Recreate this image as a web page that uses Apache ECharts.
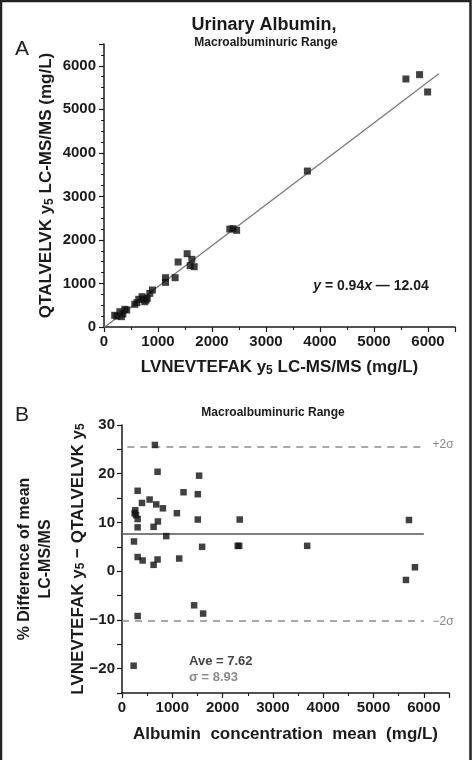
<!DOCTYPE html>
<html>
<head>
<meta charset="utf-8">
<script src="https://cdn.jsdelivr.net/npm/echarts@6/dist/echarts.min.js"></script>
<style>
html,body{margin:0;padding:0;background:#fff;}
#c{width:472px;height:760px;}
</style>
</head>
<body>
<div id="c"></div>
<script>
// ---------- Panel A data (LVNEVTEFAK y5 vs QTALVELVK y5, mg/L) ----------
const panelA_x = [198,240,293,322,350,386,420,570,610,644,705,720,755,780,800,848,897,1139,1139,1317,1373,1540,1596,1627,1670,2330,2390,2456,3766,5591,5844,5993];
const panelA_y = [269,250,352,237,300,406,390,521,560,636,696,640,581,620,660,773,850,1026,1132,1132,1493,1683,1408,1554,1385,2250,2258,2220,3582,5697,5796,5398];
// regression line end points (y = 0.94x - 12.04)
const fitLineX = [0, 6200];
const fitLineY = [-12.04, 5816];
const panelA_ticks = [0,1000,2000,3000,4000,5000,6000];

// ---------- Panel B data (Bland-Altman, % difference) ----------
const panelB_mean = [654,707,1533,311,1223,1507,549,397,681,813,264,251,1091,278,311,1507,2340,5704,714,628,311,879,238,1593,2300,2330,3681,311,1137,410,707,628,5823,5644,1434,1613,311,231];
const panelB_diff = [25.9,20.4,19.6,16.5,16.2,15.8,14.7,14.0,13.7,12.9,12.5,11.9,11.9,11.5,10.7,10.6,10.6,10.5,10.2,9.1,9.0,7.2,6.1,5.0,5.2,5.2,5.2,2.9,2.6,2.2,2.4,1.3,0.8,-1.8,-7.0,-8.7,-9.2,-19.4];
const aveValue = 7.62;
const sigmaValue = 8.93;
const upperLimit = 25.48;
const lowerLimit = -10.24;
const panelB_yTicks = [-20,-10,0,10,20,30];

const FONT = "'Liberation Sans', Arial, Helvetica, sans-serif";
const DARK = '#1a1a1a';

const chart = echarts.init(document.getElementById('c'), null, {renderer:'canvas'});

function labelStyle(fmt, extra){
  return Object.assign({color:DARK,fontFamily:FONT,fontWeight:'bold',fontSize:15,margin:7,showMaxLabel:false,formatter:fmt}, extra||{});
}
function axisCommon(extra){
  return Object.assign({
    axisLine:{show:true,onZero:false,lineStyle:{color:DARK,width:1.5}},
    axisTick:{show:true,inside:false,length:5,lineStyle:{color:DARK,width:1.2}},
    minorTick:{show:true,length:3,lineStyle:{color:DARK,width:1}},
    splitLine:{show:false},
    nameLocation:'middle',
    nameMoveOverlap:false,
    nameTextStyle:{color:DARK,fontFamily:FONT,fontWeight:'bold',fontSize:17,
      rich:{
        m:{fontFamily:FONT,fontWeight:'bold',fontSize:17,color:DARK,lineHeight:20},
        s:{fontFamily:FONT,fontWeight:'bold',fontSize:12,color:DARK,verticalAlign:'bottom',lineHeight:8}
      }}
  }, extra);
}
const fmtA = v=>panelA_ticks.includes(v)?String(v):'';

const option = {
  animation:false,
  backgroundColor:'#fff',
  grid:[
    {left:104,top:44,width:351,height:283},
    {left:122,top:425,width:327,height:268}
  ],
  xAxis:[
    axisCommon({gridIndex:0,type:'value',min:0,max:6500,interval:1000,
      minorTick:{show:true,splitNumber:2,length:3,lineStyle:{color:DARK,width:1}},
      axisLabel:labelStyle(fmtA),
      name:'{m|LVNEVTEFAK y}{s|5}{m| LC-MS/MS (mg/L)}',nameGap:30}),
    axisCommon({gridIndex:1,type:'value',min:0,max:6500,interval:1000,
      minorTick:{show:true,splitNumber:2,length:3,lineStyle:{color:DARK,width:1}},
      axisLabel:labelStyle(fmtA),
      name:'Albumin  concentration  mean  (mg/L)',nameGap:33})
  ],
  yAxis:[
    axisCommon({gridIndex:0,type:'value',min:0,max:6500,interval:1000,
      minorTick:{show:true,splitNumber:4,length:3,lineStyle:{color:DARK,width:1}},
      axisLabel:labelStyle(fmtA,{margin:8}),
      name:'{m|QTALVELVK y}{s|5}{m| LC-MS/MS (mg/L)}',nameGap:48}),
    axisCommon({gridIndex:1,type:'value',min:-25,max:30,interval:5,
      minorTick:{show:false},
      axisTick:{show:true,inside:false,length:5,lineStyle:{color:DARK,width:1.2}},
      axisLabel:labelStyle(v=>panelB_yTicks.includes(v)?(v<0?'\u2212'+Math.abs(v):String(v)):'',{margin:7,showMaxLabel:true}),
      name:'{a|% Difference of mean}\n{a|LC-MS/MS}\n{m|LVNEVTEFAK y}{s|5}{m| \u2212 QTALVELVK y}{s|5}',
      nameGap:35,
      nameTextStyle:{color:DARK,fontFamily:FONT,fontWeight:'bold',fontSize:17,
        rich:{
          a:{fontFamily:FONT,fontWeight:'bold',fontSize:16,color:DARK,lineHeight:21},
          m:{fontFamily:FONT,fontWeight:'bold',fontSize:17,color:DARK,lineHeight:31,verticalAlign:'bottom'},
          s:{fontFamily:FONT,fontWeight:'bold',fontSize:12,color:DARK,verticalAlign:'bottom',lineHeight:8}
        }}})
  ],
  series:[
    {type:'line',xAxisIndex:0,yAxisIndex:0,symbol:'none',silent:true,
      data:fitLineX.map((x,i)=>[x,fitLineY[i]]),
      lineStyle:{color:'#7a7a7a',width:1.3},z:1},
    {type:'scatter',xAxisIndex:0,yAxisIndex:0,symbol:'rect',symbolSize:7,
      data:panelA_x.map((x,i)=>[x,panelA_y[i]]),
      itemStyle:{color:'#111'},z:3},
    {type:'line',xAxisIndex:1,yAxisIndex:1,symbol:'none',silent:true,clip:false,
      data:[[-670,upperLimit],[6000,upperLimit]],
      lineStyle:{color:'#8c8c8c',width:1.5,type:[7,6]},z:1},
    {type:'line',xAxisIndex:1,yAxisIndex:1,symbol:'none',silent:true,
      data:[[0,lowerLimit],[6000,lowerLimit]],
      lineStyle:{color:'#8c8c8c',width:1.5,type:[7,6]},z:1},
    {type:'line',xAxisIndex:1,yAxisIndex:1,symbol:'none',silent:true,
      data:[[0,aveValue],[6000,aveValue]],
      lineStyle:{color:'#555',width:1.6},z:1},
    {type:'scatter',xAxisIndex:1,yAxisIndex:1,symbol:'rect',symbolSize:6.5,
      data:panelB_mean.map((x,i)=>[x,panelB_diff[i]]),
      itemStyle:{color:'#111'},z:3}
  ],
  graphic:[
    {type:'rect',shape:{x:1,y:1,width:469.5,height:800},style:{fill:'none',stroke:'#222',lineWidth:2.5},silent:true},
    {type:'text',x:22,y:49,style:{text:'A',fontFamily:FONT,fontSize:21,fill:'#222',align:'center',verticalAlign:'middle',textAlign:'center',textVerticalAlign:'middle'}},
    {type:'text',x:22,y:415,style:{text:'B',fontFamily:FONT,fontSize:21,fill:'#222',align:'center',verticalAlign:'middle',textAlign:'center',textVerticalAlign:'middle'}},
    {type:'text',x:264,y:25,style:{text:'Urinary Albumin,',fontFamily:FONT,fontWeight:'bold',fontSize:18,fill:DARK,align:'center',verticalAlign:'middle',textAlign:'center',textVerticalAlign:'middle'}},
    {type:'text',x:266,y:43,style:{text:'Macroalbuminuric Range',fontFamily:FONT,fontWeight:'bold',fontSize:12,fill:DARK,align:'center',verticalAlign:'middle',textAlign:'center',textVerticalAlign:'middle'}},
    {type:'text',x:273,y:413,style:{text:'Macroalbuminuric Range',fontFamily:FONT,fontWeight:'bold',fontSize:12,fill:DARK,align:'center',verticalAlign:'middle',textAlign:'center',textVerticalAlign:'middle'}},
    {type:'text',x:371,y:286,style:{text:'{i|y} = 0.94{i|x} \u2014 12.04',fontFamily:FONT,fontWeight:'bold',fontSize:14,fill:DARK,align:'center',verticalAlign:'middle',textAlign:'center',textVerticalAlign:'middle',
      rich:{i:{fontFamily:FONT,fontWeight:'bold',fontStyle:'italic',fontSize:14,fill:DARK,color:DARK}}}},
    {type:'text',x:443,y:445,style:{text:'+2\u03c3',fontFamily:FONT,fontSize:12,fill:'#8a8a8a',align:'center',verticalAlign:'middle',textAlign:'center',textVerticalAlign:'middle'}},
    {type:'text',x:443,y:622,style:{text:'\u22122\u03c3',fontFamily:FONT,fontSize:12,fill:'#8a8a8a',align:'center',verticalAlign:'middle',textAlign:'center',textVerticalAlign:'middle'}},
    {type:'text',x:189,y:661,style:{text:'Ave = '+aveValue.toFixed(2),fontFamily:FONT,fontWeight:'bold',fontSize:13,fill:'#444',align:'left',verticalAlign:'middle',textAlign:'left',textVerticalAlign:'middle'}},
    {type:'text',x:189,y:677,style:{text:'\u03c3 = '+sigmaValue.toFixed(2),fontFamily:FONT,fontWeight:'bold',fontSize:13,fill:'#8a8a8a',align:'left',verticalAlign:'middle',textAlign:'left',textVerticalAlign:'middle'}}
  ]
};
chart.setOption(option);
</script>
</body>
</html>
